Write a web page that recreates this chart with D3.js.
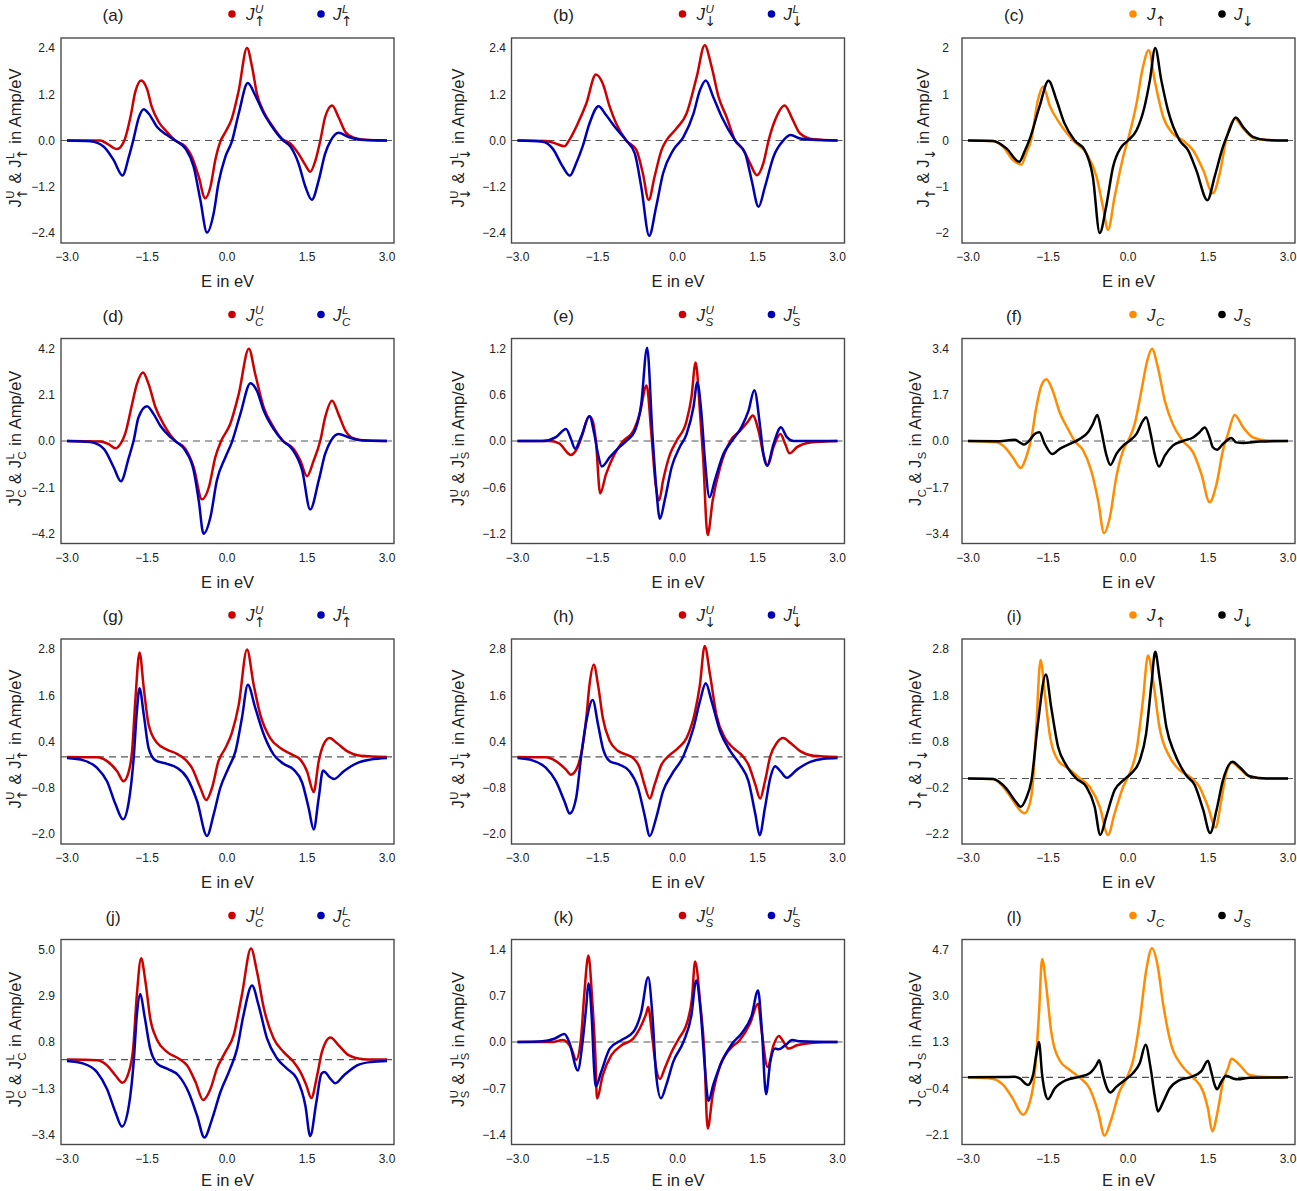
<!DOCTYPE html>
<html>
<head>
<meta charset="utf-8">
<script src="https://cdn.jsdelivr.net/npm/d3@7"></script>
<style>
  body { margin: 0; background: #fff; }
  svg text { font-family: "Liberation Sans", Arial, sans-serif; fill: #222; white-space: pre; }
  svg text.arrow { font-family: "DejaVu Sans", sans-serif; }
</style>
</head>
<body>
<div id="plot"></div>
<script>
// x axis shared by every panel
var xTicks = [-3, -1.5, 0, 1.5, 3];

// y tick values per panel
var ticksA = [-2.4, -1.2, 0, 1.2, 2.4];
var ticksB = [-2.4, -1.2, 0, 1.2, 2.4];
var ticksC = [-2, -1, 0, 1, 2];
var ticksD = [-4.2, -2.1, 0, 2.1, 4.2];
var ticksE = [-1.2, -0.6, 0, 0.6, 1.2];
var ticksF = [-3.4, -1.7, 0, 1.7, 3.4];
var ticksG = [-2.0, -0.8, 0.4, 1.6, 2.8];
var ticksH = [-2.0, -0.8, 0.4, 1.6, 2.8];
var ticksI = [-1.2, -0.2, 0.8, 1.8, 2.8];
var labelsI = ["\u22122.2", "\u22120.2", "0.8", "1.8", "2.8"];   // as printed in the original
var ticksJ = [-3.4, -1.3, 0.8, 2.9, 5.0];
var ticksK = [-1.4, -0.7, 0, 0.7, 1.4];
var ticksL = [-2.1, -0.4, 1.3, 3.0, 4.7];

// (a) J_up^U , J_up^L
var aU = [[-3,0],[-2.375,0],[-2.25,-0.08],[-2.06,-0.22],[-1.925,0],[-1.81,0.61],[-1.72,1.26],[-1.61,1.56],[-1.5,1.34],[-1.41,0.87],[-1.28,0.48],[-1.125,0.22],[-0.97,0],[-0.78,-0.16],[-0.66,-0.42],[-0.53,-0.94],[-0.41,-1.5],[-0.31,-1.2],[-0.22,-0.51],[-0.125,-0.03],[-0.03,0.22],[0.09,0.57],[0.22,1.3],[0.375,2.4],[0.47,1.91],[0.56,1.22],[0.69,0.74],[0.84,0.4],[1.03,0.05],[1.19,-0.08],[1.34,-0.34],[1.47,-0.64],[1.56,-0.81],[1.66,-0.51],[1.75,0],[1.84,0.61],[1.97,0.91],[2.09,0.61],[2.22,0.22],[2.375,0.07],[2.625,0.01],[3,0]];
var aL = [[-3,0],[-2.56,-0.02],[-2.31,-0.16],[-2.125,-0.51],[-1.96,-0.91],[-1.84,-0.42],[-1.75,0.05],[-1.66,0.57],[-1.56,0.81],[-1.47,0.7],[-1.31,0.35],[-1.125,0.14],[-0.97,0],[-0.78,-0.21],[-0.625,-0.68],[-0.5,-1.54],[-0.375,-2.39],[-0.25,-1.89],[-0.16,-1.11],[-0.03,-0.42],[0.09,-0.03],[0.22,0.7],[0.39,1.49],[0.53,1.17],[0.69,0.7],[0.84,0.37],[1.03,0.03],[1.19,-0.16],[1.34,-0.59],[1.47,-1.2],[1.59,-1.54],[1.72,-1.03],[1.84,-0.34],[1.95,0.01],[2.09,0.2],[2.28,0.09],[2.5,0.02],[3,0]];

// (b) J_down^U , J_down^L
var bU = [[-3,0],[-2.47,-0.01],[-2.28,-0.08],[-2.12,-0.15],[-2.03,0.01],[-1.87,0.44],[-1.71,0.96],[-1.53,1.71],[-1.4,1.47],[-1.27,0.87],[-1.15,0.44],[-0.96,0],[-0.77,-0.25],[-0.65,-0.85],[-0.54,-1.54],[-0.43,-0.94],[-0.3,-0.25],[-0.21,0],[-0.02,0.31],[0.17,0.7],[0.36,1.65],[0.51,2.47],[0.64,1.91],[0.77,1.13],[0.92,0.61],[1.08,0],[1.24,-0.25],[1.36,-0.59],[1.49,-0.9],[1.61,-0.59],[1.71,0.01],[1.83,0.53],[2.01,0.91],[2.15,0.57],[2.3,0.18],[2.55,0.03],[3,0]];
var bL = [[-3,0],[-2.53,-0.03],[-2.34,-0.21],[-2.15,-0.68],[-2.02,-0.91],[-1.9,-0.59],[-1.78,-0.16],[-1.65,0.44],[-1.48,0.89],[-1.34,0.66],[-1.15,0.31],[-0.96,0],[-0.8,-0.34],[-0.68,-1.2],[-0.53,-2.47],[-0.4,-1.72],[-0.27,-0.85],[-0.08,-0.25],[0.11,0.09],[0.3,0.7],[0.42,1.3],[0.53,1.56],[0.67,1.13],[0.83,0.61],[1.08,0],[1.27,-0.34],[1.39,-1.03],[1.52,-1.72],[1.64,-1.2],[1.8,-0.42],[1.99,0.01],[2.12,0.14],[2.3,0.05],[2.6,0.01],[3,0]];

// (c) J_up , J_down
var cUp = [[-3,0],[-2.53,-0.01],[-2.34,-0.14],[-2.16,-0.42],[-2.0,-0.52],[-1.91,-0.28],[-1.81,0.04],[-1.69,0.87],[-1.59,1.17],[-1.47,0.76],[-1.28,0.37],[-1.03,0],[-0.78,-0.28],[-0.59,-0.78],[-0.47,-1.43],[-0.375,-1.93],[-0.25,-1.21],[-0.09,-0.35],[0.03,0.15],[0.16,0.8],[0.28,1.59],[0.39,1.95],[0.5,1.3],[0.66,0.51],[0.84,0.15],[1.03,0],[1.22,-0.21],[1.41,-0.64],[1.59,-1.14],[1.72,-0.71],[1.84,0.01],[2.0,0.47],[2.16,0.26],[2.34,0.06],[2.6,0.01],[3,0]];
var cDn = [[-3,0],[-2.53,-0.01],[-2.28,-0.17],[-2.04,-0.46],[-1.94,-0.24],[-1.84,0.04],[-1.66,0.73],[-1.49,1.29],[-1.34,0.87],[-1.19,0.37],[-1.0,0],[-0.81,-0.21],[-0.66,-0.78],[-0.53,-2.0],[-0.41,-1.43],[-0.28,-0.57],[-0.125,-0.14],[0,0],[0.16,0.22],[0.31,0.73],[0.41,1.3],[0.51,2.0],[0.625,1.3],[0.75,0.65],[0.97,0],[1.125,-0.21],[1.28,-0.64],[1.49,-1.29],[1.625,-0.78],[1.78,-0.14],[1.875,0.15],[2.02,0.5],[2.16,0.29],[2.34,0.08],[2.6,0.01],[3,0]];

// (d) J_C^U , J_C^L
var dU = [[-3,0],[-2.375,-0.02],[-2.22,-0.14],[-2.09,-0.33],[-2.0,-0.14],[-1.91,0.32],[-1.78,1.67],[-1.69,2.58],[-1.575,3.11],[-1.47,2.58],[-1.34,1.52],[-1.19,0.77],[-0.97,0],[-0.78,-0.36],[-0.625,-1.19],[-0.47,-2.65],[-0.34,-2.1],[-0.22,-0.74],[-0.11,0],[0.06,0.77],[0.22,2.13],[0.41,4.19],[0.53,3.03],[0.69,1.52],[0.875,0.62],[1.05,0],[1.25,-0.36],[1.375,-0.89],[1.5,-1.6],[1.625,-0.89],[1.75,0.02],[1.84,1.07],[1.97,1.83],[2.09,1.22],[2.22,0.47],[2.375,0.12],[2.625,0.02],[3,0]];
var dL = [[-3,0],[-2.56,-0.05],[-2.31,-0.36],[-2.125,-1.19],[-1.99,-1.83],[-1.84,-0.74],[-1.75,0.02],[-1.66,1.07],[-1.5,1.58],[-1.375,1.22],[-1.25,0.69],[-1.09,0.24],[-0.97,0],[-0.78,-0.44],[-0.625,-1.34],[-0.53,-2.7],[-0.44,-4.21],[-0.31,-3.45],[-0.19,-1.79],[-0.03,-0.74],[0.09,-0.06],[0.25,1.22],[0.44,2.62],[0.56,2.28],[0.69,1.37],[0.875,0.54],[1.05,0],[1.22,-0.36],[1.41,-1.34],[1.56,-3.11],[1.72,-1.79],[1.84,-0.59],[1.95,0.02],[2.09,0.32],[2.28,0.17],[2.5,0.03],[3,0]];

// (e) J_S^U , J_S^L
var eU = [[-3,0],[-2.4,0],[-2.22,-0.03],[-2.0,-0.18],[-1.87,-0.08],[-1.78,0.09],[-1.66,0.32],[-1.59,0.26],[-1.53,0],[-1.45,-0.68],[-1.34,-0.43],[-1.18,-0.17],[-1.02,0],[-0.83,0.13],[-0.71,0.35],[-0.58,0.72],[-0.49,0.09],[-0.41,-0.56],[-0.345,-0.77],[-0.27,-0.51],[-0.14,-0.17],[-0.02,0],[0.17,0.26],[0.26,0.56],[0.34,1.02],[0.42,0.39],[0.48,-0.21],[0.565,-1.22],[0.66,-0.77],[0.8,-0.34],[0.99,0],[1.17,0.13],[1.33,0.26],[1.41,0.33],[1.52,0.13],[1.61,-0.17],[1.69,-0.32],[1.8,-0.08],[1.93,0.09],[2.02,-0.04],[2.1,-0.16],[2.24,-0.08],[2.49,-0.02],[3,0]];
var eL = [[-3,0],[-2.53,0],[-2.28,0.05],[-2.09,0.155],[-2.0,0.03],[-1.92,-0.1],[-1.81,0.05],[-1.65,0.32],[-1.56,0.09],[-1.49,-0.17],[-1.42,-0.33],[-1.27,-0.21],[-1.09,-0.08],[-0.96,0],[-0.8,0.13],[-0.68,0.48],[-0.57,1.21],[-0.47,0.09],[-0.4,-0.6],[-0.33,-1.01],[-0.24,-0.77],[-0.11,-0.34],[0.04,-0.08],[0.17,0.09],[0.3,0.44],[0.37,0.76],[0.45,0.35],[0.51,-0.21],[0.6,-0.73],[0.7,-0.51],[0.86,-0.17],[1.02,0],[1.2,0.18],[1.33,0.39],[1.44,0.66],[1.55,0.18],[1.61,-0.17],[1.68,-0.32],[1.8,-0.04],[1.94,0.18],[2.05,0.05],[2.18,0],[3,0]];

// (f) J_C , J_S
var fC = [[-3,0],[-2.47,-0.05],[-2.28,-0.29],[-2.16,-0.6],[-2.01,-0.99],[-1.91,-0.6],[-1.81,0.13],[-1.72,1.23],[-1.625,2.03],[-1.53,2.27],[-1.41,1.84],[-1.28,1.05],[-1.125,0.44],[-1.0,0],[-0.84,-0.35],[-0.69,-1.09],[-0.56,-2.19],[-0.45,-3.38],[-0.34,-2.8],[-0.22,-1.33],[-0.09,-0.35],[0,0],[0.125,0.62],[0.25,1.84],[0.36,2.94],[0.45,3.39],[0.56,2.7],[0.69,1.48],[0.84,0.62],[1.03,0],[1.22,-0.42],[1.375,-1.21],[1.53,-2.25],[1.66,-1.58],[1.78,-0.35],[1.875,0.26],[2.0,0.96],[2.16,0.5],[2.34,0.13],[2.59,0.02],[3,0]];
var fS = [[-3,0],[-2.41,-0.01],[-2.125,0.05],[-2.03,-0.05],[-1.95,-0.13],[-1.84,0.04],[-1.75,0.26],[-1.66,0.32],[-1.56,-0.11],[-1.42,-0.48],[-1.28,-0.29],[-1.09,-0.11],[-0.91,0.07],[-0.75,0.32],[-0.66,0.62],[-0.575,0.96],[-0.5,0.38],[-0.41,-0.48],[-0.33,-0.88],[-0.22,-0.48],[-0.09,-0.17],[0.03,0.01],[0.16,0.26],[0.28,0.74],[0.34,0.87],[0.425,0.26],[0.5,-0.48],[0.58,-0.94],[0.69,-0.54],[0.84,-0.17],[1.03,0],[1.22,0.13],[1.34,0.32],[1.44,0.5],[1.53,0.13],[1.59,-0.23],[1.67,-0.32],[1.78,-0.11],[1.94,0.11],[2.03,-0.05],[2.16,-0.07],[2.47,-0.02],[3,0]];

// (g) J_up^U , J_up^L
var gU = [[-3,0],[-2.44,-0.01],[-2.25,-0.11],[-2.06,-0.37],[-1.94,-0.63],[-1.84,-0.37],[-1.78,0.15],[-1.72,1.44],[-1.64,2.71],[-1.56,1.78],[-1.47,0.84],[-1.31,0.36],[-1.125,0.19],[-0.94,0.08],[-0.78,-0.07],[-0.66,-0.28],[-0.5,-0.8],[-0.39,-1.12],[-0.28,-0.8],[-0.16,-0.11],[-0.03,0.23],[0.09,0.62],[0.22,1.35],[0.375,2.79],[0.5,1.87],[0.625,1.09],[0.81,0.49],[1.0,0.23],[1.22,0.06],[1.375,-0.07],[1.5,-0.37],[1.625,-0.91],[1.72,-0.11],[1.81,0.32],[1.925,0.49],[2.06,0.36],[2.25,0.15],[2.5,0.03],[3,0]];
var gL = [[-3,-0.03],[-2.69,-0.09],[-2.44,-0.28],[-2.25,-0.63],[-2.09,-1.23],[-1.95,-1.62],[-1.84,-1.15],[-1.75,-0.03],[-1.69,1.18],[-1.64,1.78],[-1.56,1.09],[-1.47,0.23],[-1.34,-0.09],[-1.125,-0.18],[-0.94,-0.28],[-0.75,-0.54],[-0.56,-1.15],[-0.375,-2.05],[-0.25,-1.49],[-0.125,-0.8],[0.03,-0.28],[0.16,0.15],[0.28,1.01],[0.39,1.87],[0.53,1.27],[0.69,0.58],[0.875,0.06],[1.06,-0.18],[1.25,-0.33],[1.41,-0.67],[1.53,-1.32],[1.625,-1.88],[1.72,-1.06],[1.8,-0.35],[1.91,-0.5],[2.01,-0.57],[2.19,-0.37],[2.44,-0.16],[2.69,-0.07],[3,-0.03]];

// (h) J_down^U , J_down^L
var hU = [[-3,0],[-2.47,-0.01],[-2.28,-0.11],[-2.09,-0.33],[-2.0,-0.46],[-1.9,-0.33],[-1.81,0.06],[-1.71,1.01],[-1.65,1.87],[-1.57,2.39],[-1.49,1.87],[-1.4,1.01],[-1.27,0.41],[-1.12,0.16],[-0.96,0.06],[-0.83,-0.03],[-0.71,-0.28],[-0.62,-0.72],[-0.52,-1.08],[-0.43,-0.72],[-0.3,-0.2],[-0.17,0.02],[0.01,0.23],[0.17,0.49],[0.33,1.18],[0.42,1.87],[0.51,2.88],[0.61,2.13],[0.73,1.09],[0.89,0.49],[1.05,0.23],[1.21,0.04],[1.33,-0.2],[1.46,-0.72],[1.55,-1.08],[1.64,-0.63],[1.74,0.02],[1.86,0.36],[1.98,0.49],[2.12,0.36],[2.3,0.15],[2.55,0.03],[3,0]];
var hL = [[-3,-0.03],[-2.72,-0.09],[-2.47,-0.28],[-2.28,-0.63],[-2.12,-1.15],[-2.02,-1.47],[-1.9,-1.06],[-1.81,-0.03],[-1.71,0.92],[-1.59,1.48],[-1.49,0.84],[-1.4,0.23],[-1.27,-0.11],[-1.09,-0.2],[-0.9,-0.37],[-0.74,-0.8],[-0.62,-1.49],[-0.52,-2.05],[-0.4,-1.58],[-0.27,-0.89],[-0.11,-0.46],[0.11,0.02],[0.3,0.75],[0.42,1.44],[0.53,1.91],[0.64,1.44],[0.8,0.66],[0.99,0.15],[1.17,-0.2],[1.33,-0.63],[1.46,-1.49],[1.54,-2.03],[1.64,-1.32],[1.74,-0.54],[1.83,-0.24],[1.93,-0.37],[2.05,-0.54],[2.24,-0.33],[2.49,-0.13],[2.74,-0.05],[3,-0.03]];

// (i) J_up , J_down
var iUp = [[-3,0],[-2.53,-0.01],[-2.34,-0.18],[-2.16,-0.47],[-2.03,-0.68],[-1.94,-0.75],[-1.84,-0.54],[-1.78,-0.04],[-1.72,1.11],[-1.64,2.56],[-1.56,1.83],[-1.47,0.97],[-1.31,0.39],[-1.125,0.22],[-0.94,0.04],[-0.72,-0.18],[-0.53,-0.61],[-0.375,-1.22],[-0.25,-0.75],[-0.09,-0.18],[0.03,0.11],[0.16,0.61],[0.28,1.69],[0.375,2.66],[0.47,2.12],[0.59,1.11],[0.78,0.47],[0.97,0.18],[1.16,0.04],[1.34,-0.18],[1.5,-0.61],[1.64,-1.06],[1.75,-0.47],[1.84,0.11],[1.95,0.34],[2.09,0.22],[2.28,0.04],[2.6,0],[3,0]];
var iDn = [[-3,0],[-2.53,-0.01],[-2.28,-0.22],[-2.125,-0.47],[-2.01,-0.61],[-1.91,-0.43],[-1.81,-0.04],[-1.69,1.18],[-1.54,2.25],[-1.44,1.54],[-1.31,0.68],[-1.16,0.29],[-0.97,0],[-0.78,-0.18],[-0.625,-0.61],[-0.52,-1.22],[-0.41,-0.83],[-0.25,-0.25],[-0.09,-0.04],[0.06,0.11],[0.22,0.39],[0.34,0.97],[0.44,2.05],[0.51,2.74],[0.59,2.19],[0.72,1.11],[0.875,0.54],[1.09,0.07],[1.25,-0.14],[1.41,-0.68],[1.54,-1.18],[1.66,-0.68],[1.78,-0.04],[1.96,0.36],[2.09,0.25],[2.28,0.05],[2.6,0],[3,0]];

// (j) J_C^U , J_C^L
var jU = [[-3,0],[-2.44,-0.03],[-2.25,-0.26],[-2.09,-0.72],[-1.96,-1.05],[-1.84,-0.56],[-1.76,0.5],[-1.69,2.95],[-1.61,4.6],[-1.53,3.56],[-1.44,1.88],[-1.31,0.89],[-1.125,0.35],[-0.91,0.05],[-0.75,-0.26],[-0.59,-1.02],[-0.45,-1.83],[-0.31,-1.33],[-0.19,-0.41],[-0.03,0.35],[0.125,1.11],[0.28,2.95],[0.45,5.04],[0.56,4.02],[0.69,2.34],[0.875,0.96],[1.06,0.35],[1.25,-0.11],[1.375,-0.56],[1.49,-1.18],[1.58,-1.74],[1.69,-0.72],[1.78,0.35],[1.94,1.01],[2.09,0.66],[2.28,0.2],[2.56,0.02],[3,0]];
var jL = [[-3,-0.06],[-2.69,-0.18],[-2.44,-0.56],[-2.25,-1.33],[-2.09,-2.4],[-1.97,-3.04],[-1.84,-2.09],[-1.75,-0.11],[-1.69,2.03],[-1.625,2.98],[-1.55,2.03],[-1.44,0.5],[-1.31,-0.18],[-1.125,-0.41],[-0.91,-0.72],[-0.72,-1.48],[-0.56,-2.55],[-0.425,-3.54],[-0.28,-2.7],[-0.125,-1.48],[0.06,-0.41],[0.19,0.5],[0.31,2.03],[0.47,3.36],[0.59,2.49],[0.75,0.96],[0.94,0.05],[1.125,-0.41],[1.31,-0.87],[1.47,-2.09],[1.56,-3.47],[1.675,-1.94],[1.77,-0.64],[1.825,-0.56],[1.94,-0.87],[2.03,-1.07],[2.19,-0.72],[2.44,-0.26],[2.69,-0.11],[3,-0.06]];

// (k) J_S^U , J_S^L
var kU = [[-3,0],[-2.34,0],[-2.15,0.03],[-1.99,-0.1],[-1.9,-0.27],[-1.81,0.05],[-1.75,0.7],[-1.67,1.31],[-1.6,0.65],[-1.54,-0.2],[-1.51,-0.85],[-1.4,-0.5],[-1.24,-0.2],[-1.05,-0.05],[-0.83,0.05],[-0.71,0.2],[-0.58,0.45],[-0.55,0.53],[-0.47,0.05],[-0.41,-0.35],[-0.33,-0.56],[-0.24,-0.4],[-0.11,-0.15],[0.01,0.03],[0.2,0.35],[0.27,0.65],[0.33,1.22],[0.43,0.55],[0.5,-0.1],[0.565,-1.31],[0.66,-0.8],[0.8,-0.35],[0.99,-0.1],[1.17,0.03],[1.36,0.28],[1.51,0.58],[1.58,0.15],[1.69,-0.38],[1.8,-0.05],[1.9,0.09],[1.99,0],[2.08,-0.1],[2.24,-0.05],[2.55,-0.01],[3,0]];
var kL = [[-3,0],[-2.53,0.01],[-2.31,0.05],[-2.12,0.12],[-2.03,0],[-1.87,-0.43],[-1.78,0],[-1.71,0.55],[-1.67,0.89],[-1.61,0.4],[-1.56,-0.45],[-1.53,-0.67],[-1.43,-0.45],[-1.27,-0.1],[-1.05,0.03],[-0.83,0.15],[-0.68,0.45],[-0.55,0.98],[-0.47,0.4],[-0.4,-0.5],[-0.31,-0.85],[-0.21,-0.65],[-0.08,-0.3],[0.11,0],[0.26,0.4],[0.35,0.93],[0.43,0.5],[0.51,-0.35],[0.58,-0.89],[0.67,-0.65],[0.83,-0.3],[1.02,-0.03],[1.2,0.13],[1.39,0.4],[1.51,0.78],[1.58,0.2],[1.66,-0.79],[1.74,-0.3],[1.83,-0.1],[1.9,-0.11],[2.02,-0.05],[2.15,0.03],[2.3,0.01],[3,0]];

// (l) J_C , J_S
var lC = [[-3,0],[-2.53,-0.06],[-2.34,-0.28],[-2.16,-0.78],[-1.97,-1.37],[-1.84,-0.9],[-1.75,0.09],[-1.67,2.31],[-1.61,4.35],[-1.53,3.3],[-1.44,1.69],[-1.28,0.62],[-1.09,0.27],[-0.91,0],[-0.72,-0.41],[-0.56,-1.27],[-0.44,-2.14],[-0.31,-1.52],[-0.16,-0.53],[-0.03,-0.04],[0.09,0.58],[0.22,2.06],[0.34,3.92],[0.45,4.75],[0.55,4.17],[0.66,2.68],[0.81,1.2],[1.0,0.46],[1.22,0],[1.41,-0.53],[1.5,-1.15],[1.58,-1.98],[1.69,-1.15],[1.78,-0.16],[1.875,0.33],[1.94,0.68],[2.09,0.46],[2.28,0.09],[2.6,0.01],[3,0]];
var lS = [[-3,0],[-2.34,0.01],[-2.125,0.02],[-2.03,-0.04],[-1.875,-0.28],[-1.78,0.09],[-1.72,0.83],[-1.67,1.3],[-1.61,0.09],[-1.56,-0.53],[-1.5,-0.8],[-1.375,-0.41],[-1.16,-0.1],[-0.91,0.02],[-0.72,0.15],[-0.59,0.46],[-0.54,0.63],[-0.47,0.09],[-0.39,-0.41],[-0.33,-0.56],[-0.22,-0.35],[-0.06,-0.1],[0.09,0.15],[0.22,0.52],[0.33,1.2],[0.425,0.33],[0.5,-0.66],[0.56,-1.25],[0.66,-0.9],[0.78,-0.41],[0.97,-0.1],[1.19,0.02],[1.375,0.23],[1.5,0.61],[1.56,0.21],[1.625,-0.28],[1.67,-0.44],[1.75,-0.16],[1.84,0.06],[1.97,-0.04],[2.06,-0.07],[2.28,-0.01],[3,0]];

var red = "#cc0000", blue = "#0000b4", orange = "#ff8c00", black = "#000000";

// legend / axis-title pieces
var legUp   = [[{t: "J", it: true}, {sup: "U", sub: "\u2191", supIt: true}], [{t: "J", it: true}, {sup: "L", sub: "\u2191", supIt: true}]];
var legDown = [[{t: "J", it: true}, {sup: "U", sub: "\u2193", supIt: true}], [{t: "J", it: true}, {sup: "L", sub: "\u2193", supIt: true}]];
var legSpin = [[{t: "J", it: true}, {sub: "\u2191"}], [{t: "J", it: true}, {sub: "\u2193"}]];
var legCU   = [[{t: "J", it: true}, {sup: "U", sub: "C", supIt: true, subIt: true}], [{t: "J", it: true}, {sup: "L", sub: "C", supIt: true, subIt: true}]];
var legSU   = [[{t: "J", it: true}, {sup: "U", sub: "S", supIt: true, subIt: true}], [{t: "J", it: true}, {sup: "L", sub: "S", supIt: true, subIt: true}]];
var legCS   = [[{t: "J", it: true}, {sub: "C", subIt: true}], [{t: "J", it: true}, {sub: "S", subIt: true}]];

var ttlUp   = [{t: "J"}, {sup: "U", sub: "\u2191"}, {t: " & J"}, {sup: "L", sub: "\u2191"}, {t: " in Amp/eV"}];
var ttlDown = [{t: "J"}, {sup: "U", sub: "\u2193"}, {t: " & J"}, {sup: "L", sub: "\u2193"}, {t: " in Amp/eV"}];
var ttlSpin = [{t: "J"}, {sub: "\u2191"}, {t: " & J"}, {sub: "\u2193"}, {t: " in Amp/eV"}];
var ttlCU   = [{t: "J"}, {sup: "U", sub: "C"}, {t: " & J"}, {sup: "L", sub: "C"}, {t: " in Amp/eV"}];
var ttlSU   = [{t: "J"}, {sup: "U", sub: "S"}, {t: " & J"}, {sup: "L", sub: "S"}, {t: " in Amp/eV"}];
var ttlCS   = [{t: "J"}, {sub: "C"}, {t: " & J"}, {sub: "S"}, {t: " in Amp/eV"}];

var panels = [
  {name: "(a)", ticks: ticksA, fmt: ".1f", series: [aU, aL], colors: [red, blue], leg: legUp, ttl: ttlUp},
  {name: "(b)", ticks: ticksB, fmt: ".1f", series: [bU, bL], colors: [red, blue], leg: legDown, ttl: ttlDown},
  {name: "(c)", ticks: ticksC, fmt: "d", series: [cUp, cDn], colors: [orange, black], leg: legSpin, ttl: ttlSpin, ttlDx: 8},
  {name: "(d)", ticks: ticksD, fmt: ".1f", series: [dU, dL], colors: [red, blue], leg: legCU, ttl: ttlCU},
  {name: "(e)", ticks: ticksE, fmt: ".1f", series: [eU, eL], colors: [red, blue], leg: legSU, ttl: ttlSU},
  {name: "(f)", ticks: ticksF, fmt: ".1f", series: [fC, fS], colors: [orange, black], leg: legCS, ttl: ttlCS},
  {name: "(g)", ticks: ticksG, fmt: ".1f", series: [gU, gL], colors: [red, blue], leg: legUp, ttl: ttlUp},
  {name: "(h)", ticks: ticksH, fmt: ".1f", series: [hU, hL], colors: [red, blue], leg: legDown, ttl: ttlDown},
  {name: "(i)", ticks: ticksI, labels: labelsI, series: [iUp, iDn], colors: [orange, black], leg: legSpin, ttl: ttlSpin},
  {name: "(j)", ticks: ticksJ, fmt: ".1f", series: [jU, jL], colors: [red, blue], leg: legCU, ttl: ttlCU},
  {name: "(k)", ticks: ticksK, fmt: ".1f", series: [kU, kL], colors: [red, blue], leg: legSU, ttl: ttlSU},
  {name: "(l)", ticks: ticksL, fmt: ".1f", series: [lC, lS], colors: [orange, black], leg: legCS, ttl: ttlCS}
];

var width = 1297, height = 1191;
var colX = [61, 511.5, 962], rowY = [38, 338.5, 639, 939.5];
var boxW = 333, boxH = 205;
var tickGap = [6, 5.5, 13], titleDx = [-46, -53, -47];

var svg = d3.select("#plot").append("svg")
  .attr("width", width)
  .attr("height", height);

function isArrow(s) { return s === "\u2191" || s === "\u2193"; }

// text with stacked super/subscripts, returns its width
function rich(parent, parts, size) {
  var g = parent.append("g");
  var x = 0;
  parts.forEach(function(p) {
    if (p.t !== undefined) {
      var t = g.append("text").attr("x", x).attr("font-size", size)
        .attr("font-style", p.it ? "italic" : "normal").text(p.t);
      x += t.node().getComputedTextLength();
    } else {
      var s = size * 0.68, w = 0;
      if (p.sup) {
        var t1 = g.append("text").attr("x", x + 0.5).attr("y", -size * 0.4).attr("font-size", s)
          .attr("font-style", p.supIt ? "italic" : "normal").text(p.sup);
        w = Math.max(w, t1.node().getComputedTextLength());
      }
      if (p.sub) {
        var arrow = isArrow(p.sub);
        var t2 = g.append("text").attr("x", x + (arrow ? -0.5 : 0.5)).attr("y", size * (arrow ? 0.36 : 0.3))
          .attr("class", arrow ? "arrow" : null)
          .attr("font-size", arrow ? s * 1.2 : s)
          .attr("font-style", p.subIt ? "italic" : "normal").text(p.sub);
        w = Math.max(w, t2.node().getComputedTextLength() - (arrow ? 1.5 : 0));
      }
      x += w + 1.5;
    }
  });
  return {g: g, w: x};
}

panels.forEach(function(p, i) {
  var col = i % 3, row = Math.floor(i / 3);
  var bx = colX[col], by = rowY[row];

  var x = d3.scaleLinear().domain([-3, 3]).range([bx + 6, bx + 326]);
  var y = d3.scaleLinear().domain([p.ticks[0], p.ticks[4]]).range([by + 195, by + 10]);
  var pg = svg.append("g");

  // frame
  pg.append("rect")
    .attr("x", bx).attr("y", by).attr("width", boxW).attr("height", boxH)
    .attr("fill", "none").attr("stroke", "#4a4a4a").attr("stroke-width", 1.4);

  // zero line
  pg.append("line")
    .attr("x1", bx).attr("x2", bx + boxW)
    .attr("y1", y(0)).attr("y2", y(0))
    .attr("stroke", "#555").attr("stroke-width", 1.2)
    .attr("stroke-dasharray", "7,5");

  // curves
  var line = d3.line()
    .x(function(d) { return x(d[0]); })
    .y(function(d) { return y(d[1]); })
    .curve(d3.curveMonotoneX);

  p.series.forEach(function(s, k) {
    pg.append("path")
      .datum(s)
      .attr("d", line)
      .attr("fill", "none")
      .attr("stroke", p.colors[k])
      .attr("stroke-width", 2.5)
      .attr("stroke-linejoin", "round");
  });

  // x tick labels
  var fx = d3.format(".1f");
  pg.selectAll(".xt").data(xTicks).enter().append("text")
    .attr("x", function(d) { return x(d); })
    .attr("y", by + 223)
    .attr("text-anchor", "middle")
    .attr("font-size", 12)
    .text(function(d) { return fx(d); });

  // y tick labels
  var fy = p.fmt ? d3.format(p.fmt) : null;
  pg.selectAll(".yt").data(p.ticks).enter().append("text")
    .attr("x", bx - tickGap[col])
    .attr("y", function(d) { return y(d) + 4.3; })
    .attr("text-anchor", "end")
    .attr("font-size", 12)
    .text(function(d, j) { return p.labels ? p.labels[j] : fy(d); });

  // x title
  pg.append("text")
    .attr("x", bx + boxW / 2)
    .attr("y", Math.min(by + 249, 1186))
    .attr("text-anchor", "middle")
    .attr("font-size", 16.5)
    .text("E in eV");

  // y title
  var tg = pg.append("g")
    .attr("transform", "translate(" + (bx + titleDx[col] + (p.ttlDx || 0)) + "," + (by + 100) + ") rotate(-90)");
  var tt = rich(tg, p.ttl, 16.5);
  tt.g.attr("transform", "translate(" + (-tt.w / 2) + "," + (16.5 * 0.36) + ")");

  // panel label
  pg.append("text")
    .attr("x", bx + 52)
    .attr("y", by - 17)
    .attr("text-anchor", "middle")
    .attr("font-size", 17)
    .text(p.name);

  // legend
  var dotX = [171, 260], labX = [185, 272];
  p.leg.forEach(function(parts, k) {
    pg.append("circle")
      .attr("cx", bx + dotX[k]).attr("cy", by - 24)
      .attr("r", 3.8)
      .attr("fill", p.colors[k]);
    var lg = pg.append("g").attr("transform", "translate(" + (bx + labX[k]) + "," + (by - 18) + ")");
    rich(lg, parts, 17);
  });
});
</script>
</body>
</html>
